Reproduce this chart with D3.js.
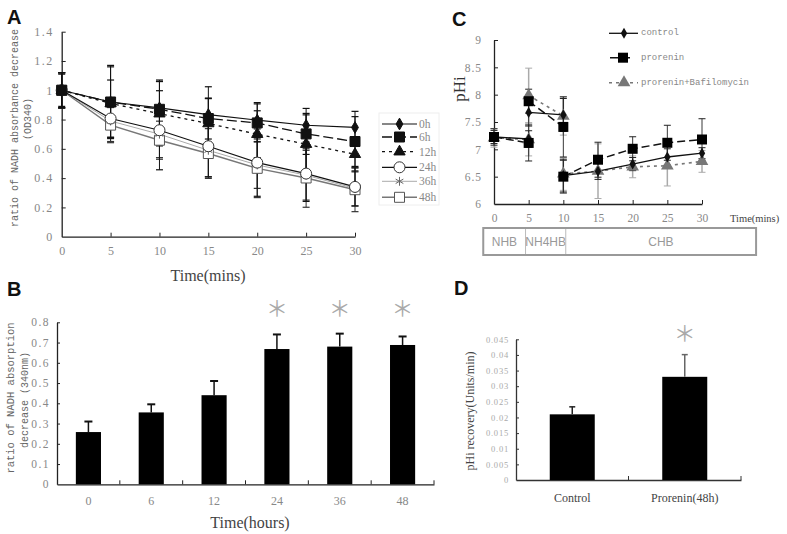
<!DOCTYPE html>
<html><head><meta charset="utf-8">
<script src="https://cdn.jsdelivr.net/npm/d3@7"></script>
<style>body{margin:0;background:#fff}svg{display:block}</style></head>
<body>
<script>
// ---------- Panel A data ----------
const timesA = [0, 5, 10, 15, 20, 25, 30];
const seriesA = ["0h", "6h", "12h", "24h", "36h", "48h"];
const valA0h  = [1, 0.92, 0.88, 0.834, 0.796, 0.761, 0.746];
const valA6h  = [1, 0.92, 0.87, 0.807, 0.777, 0.702, 0.65];
const valA12h = [1, 0.91, 0.84, 0.773, 0.70, 0.632, 0.563];
const valA24h = [1, 0.807, 0.727, 0.618, 0.506, 0.431, 0.34];
const valA36h = [1, 0.79, 0.70, 0.59, 0.49, 0.42, 0.33];
const valA48h = [1, 0.762, 0.659, 0.568, 0.467, 0.401, 0.321];
const errA0h  = [0.12, 0.25, 0.19, 0.19, 0.12, 0.115, 0.11];
const errA6h  = [0.11, 0.24, 0.19, 0.14, 0.13, 0.14, 0.17];
const errA12h = [0.12, 0.16, 0.22, 0.17, 0.16, 0.20, 0.12];
const errA24h = [0.12, 0.13, 0.27, 0.21, 0.23, 0.19, 0.13];
const errA36h = [0.12, 0.14, 0.16, 0.18, 0.16, 0.17, 0.12];
const errA48h = [0.12, 0.12, 0.13, 0.17, 0.20, 0.20, 0.15];
const ticksAy = [0, 0.2, 0.4, 0.6, 0.8, 1, 1.2, 1.4];

// ---------- Panel B data ----------
const hoursB = ["0", "6", "12", "24", "36", "48"];
const valB = [0.258, 0.355, 0.44, 0.668, 0.68, 0.688];
const errB = [0.052, 0.04, 0.07, 0.072, 0.064, 0.042];
const starB = [false, false, false, true, true, true];
const ticksBy = [0, 0.1, 0.2, 0.3, 0.4, 0.5, 0.6, 0.7, 0.8];

// ---------- Panel C data ----------
const seriesC = ["control", "prorenin", "prorenin+Bafilomycin"];
const segTimesC = [[0, 5], [5, 10], [10, 15, 20, 25, 30]];
const valCcontrol  = [[7.226, 7.19], [7.676, 7.63], [6.52, 6.60, 6.73, 6.86, 6.93]];
const valCprorenin = [[7.226, 7.117], [7.88, 7.41], [6.50, 6.81, 7.01, 7.12, 7.18]];
const valCbaf      = [[7.21, 7.18], [7.985, 7.61], [6.55, 6.60, 6.68, 6.70, 6.78]];
const errCcontrol  = [[0.15, 0.15], [0.25, 0.3], [0.3, 0.15, 0.12, 0.15, 0.1]];
const errCprorenin = [[0.12, 0.33], [0.22, 0.55], [0.3, 0.32, 0.22, 0.32, 0.38]];
const errCbaf      = [[0.17, 0.3], [0.5, 0.35], [0.3, 0.5, 0.2, 0.37, 0.2]];
const ticksCx = [0, 5, 10, 15, 20, 25, 30];
const ticksCy = [6, 6.5, 7, 7.5, 8, 8.5, 9];
const phaseLabels = ["NHB", "NH4HB", "CHB"];
const phaseBounds = [-1.55, 4.55, 10.35, 37.8];

// ---------- Panel D data ----------
const groupsD = ["Control", "Prorenin(48h)"];
const valD = [0.021, 0.033];
const errD = [0.0024, 0.0071];
const starD = [false, true];
const ticksDy = [0, 0.005, 0.01, 0.015, 0.02, 0.025, 0.03, 0.035, 0.04, 0.045];

const W = 787, H = 534;
const svg = d3.select("body").append("svg").attr("width", W).attr("height", H);
const fmt = d3.format("~g");
const SERIF = "'Liberation Serif', 'DejaVu Serif', serif";
const MONO = "'Liberation Mono', 'DejaVu Sans Mono', monospace";
const SANS = "'Liberation Sans', Arial, sans-serif";

function styleAxis(g, color, fontSize, family, textColor) {
  g.select(".domain").attr("stroke", color).attr("stroke-width", 1.3);
  g.selectAll(".tick line").attr("stroke", color).attr("stroke-width", 1);
  g.selectAll(".tick text").attr("fill", textColor).style("font-size", fontSize + "px").style("font-family", family);
}
function letter(txt, x, y) {
  svg.append("text").attr("x", x).attr("y", y).text(txt)
    .style("font-family", SANS).style("font-weight", "bold").style("font-size", "20px").attr("fill", "#111");
}
function star(x, y, size) {
  svg.append("text").attr("x", x).attr("y", y).text("＊")
    .attr("text-anchor", "middle").attr("dominant-baseline", "central")
    .style("font-family", "'Noto Sans CJK SC', sans-serif").style("font-size", size + "px").attr("fill", "#aaa");
}

// =============== PANEL A ===============
letter("A", 7, 24);
const xA = d3.scaleLinear().domain([0, 30]).range([61.7, 355]);
const yA = d3.scaleLinear().domain([0, 1.4]).range([236.7, 31.7]);
const gAx = svg.append("g").attr("transform", `translate(0,${yA(0)})`)
  .call(d3.axisBottom(xA).tickValues(timesA).tickSizeInner(-4).tickSizeOuter(0).tickPadding(10).tickFormat(fmt));
gAx.selectAll(".tick").filter(d => d === 0).select("line").remove();
styleAxis(gAx, "#222", 12, SERIF, "#888");
const gAy = svg.append("g").attr("transform", `translate(${xA(0)},0)`)
  .call(d3.axisLeft(yA).tickValues(ticksAy).tickSizeInner(-4).tickSizeOuter(0).tickPadding(8).tickFormat(fmt));
gAy.selectAll(".tick").filter(d => d === 0).select("line").remove();
styleAxis(gAy, "#222", 12, SERIF, "#888");
gAy.selectAll(".tick text").style("letter-spacing", "1.5px");

svg.append("text").attr("x", 208).attr("y", 281).attr("text-anchor", "middle").text("Time(mins)")
  .style("font-family", SERIF).style("font-size", "16px").attr("fill", "#444");
svg.append("text").attr("transform", "translate(18,128) rotate(-90)").attr("text-anchor", "middle")
  .text("ratio of NADH absorbance decrease").style("font-family", MONO).style("font-size", "10px").attr("fill", "#666");
svg.append("text").attr("transform", "translate(31,119) rotate(-90)").attr("text-anchor", "middle")
  .text("(OD340)").style("font-family", MONO).style("font-size", "10px").attr("fill", "#666");

const defsA = [
  {name: "0h",  v: valA0h,  e: errA0h,  stroke: "#111", dash: null,   sw: 1.2, sym: d3.symbolDiamond, size: 40, fill: "#111", mstroke: "#111", ecol: "#111"},
  {name: "6h",  v: valA6h,  e: errA6h,  stroke: "#111", dash: "10,4", sw: 1.3, sym: d3.symbolSquare,  size: 100, fill: "#111", mstroke: "#111", ecol: "#111"},
  {name: "12h", v: valA12h, e: errA12h, stroke: "#111", dash: "3,4",  sw: 1.3, sym: d3.symbolTriangle, size: 55, fill: "#111", mstroke: "#111", ecol: "#111"},
  {name: "24h", v: valA24h, e: errA24h, stroke: "#111", dash: null,   sw: 1.2, sym: d3.symbolCircle,  size: 95, fill: "#fff", mstroke: "#333", ecol: "#111"},
  {name: "36h", v: valA36h, e: errA36h, stroke: "#aaa", dash: null,   sw: 1.0, sym: d3.symbolAsterisk, size: 55, fill: "none", mstroke: "#666", ecol: "#333"},
  {name: "48h", v: valA48h, e: errA48h, stroke: "#777", dash: null,   sw: 1.4, sym: d3.symbolSquare,  size: 100, fill: "#fff", mstroke: "#555", ecol: "#333"}
];
const lineA = d3.line().x((d, i) => xA(timesA[i])).y(d => yA(d));
// error bars first
defsA.slice().reverse().forEach(s => {
  const g = svg.append("g");
  timesA.forEach((t, i) => {
    const x = xA(t), y1 = yA(s.v[i] + s.e[i]), y2 = yA(s.v[i] - s.e[i]);
    g.append("line").attr("x1", x).attr("x2", x).attr("y1", y1).attr("y2", y2).attr("stroke", s.ecol).attr("stroke-width", 1);
    [y1, y2].forEach(yy => g.append("line").attr("x1", x - 3.5).attr("x2", x + 3.5).attr("y1", yy).attr("y2", yy).attr("stroke", s.ecol).attr("stroke-width", 1.2));
  });
});
defsA.slice().reverse().forEach(s => {
  svg.append("path").attr("d", lineA(s.v)).attr("fill", "none").attr("stroke", s.stroke)
    .attr("stroke-width", s.sw).attr("stroke-dasharray", s.dash);
});
defsA.slice().reverse().forEach(s => {
  svg.append("g").selectAll("path").data(s.v).join("path")
    .attr("transform", (d, i) => `translate(${xA(timesA[i])},${yA(d)})`)
    .attr("d", d3.symbol(s.sym, s.size)).attr("fill", s.fill).attr("stroke", s.mstroke).attr("stroke-width", 1);
});
// legend A
const legAy = [124, 137, 151.7, 167.3, 181.3, 197.3];
svg.append("rect").attr("x", 379).attr("y", 113).attr("width", 60).attr("height", 92)
  .attr("fill", "none").attr("stroke", "#eee").attr("stroke-width", 1);
defsA.forEach((s, i) => {
  const y = legAy[i];
  svg.append("line").attr("x1", 382).attr("x2", 417).attr("y1", y).attr("y2", y)
    .attr("stroke", s.stroke).attr("stroke-width", s.sw).attr("stroke-dasharray", s.dash);
  svg.append("path").attr("transform", `translate(399.5,${y})`).attr("d", d3.symbol(s.sym, s.size))
    .attr("fill", s.fill).attr("stroke", s.mstroke).attr("stroke-width", 1);
  svg.append("text").attr("x", 419).attr("y", y).attr("dominant-baseline", "central").text(s.name)
    .style("font-family", SERIF).style("font-size", "11.5px").attr("fill", "#888");
});

// =============== PANEL B ===============
letter("B", 7, 296);
const xB = d3.scaleBand().domain(hoursB).range([57, 434]).paddingInner(0.6).paddingOuter(0.3);
const yB = d3.scaleLinear().domain([0, 0.8]).range([484.3, 322.3]);
const stepB = xB.step();
const gBy = svg.append("g").attr("transform", `translate(57,0)`)
  .call(d3.axisLeft(yB).tickValues(ticksBy).tickSizeInner(-3).tickSizeOuter(0).tickPadding(7).tickFormat(fmt));
gBy.selectAll(".tick").filter(d => d === 0).select("line").remove();
styleAxis(gBy, "#222", 11.5, SERIF, "#888");
gBy.selectAll(".tick text").style("letter-spacing", "1.5px");
const gBx = svg.append("g").attr("transform", `translate(0,${yB(0)})`)
  .call(d3.axisBottom(xB).tickSize(0).tickPadding(12));
styleAxis(gBx, "#222", 12, SERIF, "#888");
// boundary ticks
hoursB.slice(1).concat(["end"]).forEach((h, i) => {
  const x = h === "end" ? 434 : xB(h) - xB.bandwidth() * 0.75;
  svg.append("line").attr("x1", x).attr("x2", x).attr("y1", yB(0)).attr("y2", yB(0) - 4).attr("stroke", "#222");
});
svg.append("g").selectAll("rect").data(valB).join("rect")
  .attr("x", (d, i) => xB(hoursB[i])).attr("width", xB.bandwidth())
  .attr("y", d => yB(d)).attr("height", d => yB(0) - yB(d)).attr("fill", "#000");
valB.forEach((v, i) => {
  const cx = xB(hoursB[i]) + xB.bandwidth() / 2;
  svg.append("line").attr("x1", cx).attr("x2", cx).attr("y1", yB(v)).attr("y2", yB(v + errB[i])).attr("stroke", "#111").attr("stroke-width", 1.5);
  svg.append("line").attr("x1", cx - 4).attr("x2", cx + 4).attr("y1", yB(v + errB[i])).attr("y2", yB(v + errB[i])).attr("stroke", "#111").attr("stroke-width", 2);
  if (starB[i]) star(cx, 306, 22);
});
svg.append("text").attr("x", 250).attr("y", 528).attr("text-anchor", "middle").text("Time(hours)")
  .style("font-family", SERIF).style("font-size", "16px").attr("fill", "#444");
svg.append("text").attr("transform", "translate(14,398) rotate(-90)").attr("text-anchor", "middle")
  .text("ratio of NADH absorption").style("font-family", MONO).style("font-size", "10.5px").attr("fill", "#666");
svg.append("text").attr("transform", "translate(28,400) rotate(-90)").attr("text-anchor", "middle")
  .text("decrease (340nm)").style("font-family", MONO).style("font-size", "10px").attr("fill", "#666");

// =============== PANEL C ===============
letter("C", 452, 26);
const xC = d3.scaleLinear().domain([0, 30]).range([494, 702]);
const yC = d3.scaleLinear().domain([6, 9]).range([204, 40]);
const gCx = svg.append("g").attr("transform", `translate(0,${yC(6)})`)
  .call(d3.axisBottom(xC).tickValues(ticksCx).tickSizeInner(-4).tickSizeOuter(0).tickPadding(10).tickFormat(fmt));
gCx.selectAll(".tick").filter(d => d === 0).select("line").remove();
styleAxis(gCx, "#222", 11.5, SERIF, "#888");
const gCy = svg.append("g").attr("transform", `translate(${xC(0)},0)`)
  .call(d3.axisLeft(yC).tickValues(ticksCy).tickSizeInner(-4).tickSizeOuter(0).tickPadding(12).tickFormat(fmt));
gCy.selectAll(".tick").filter(d => d === 6).select("line").remove();
styleAxis(gCy, "#222", 11.5, SERIF, "#888");
gCy.selectAll(".tick text").style("letter-spacing", "1px");
svg.append("text").attr("transform", "translate(465,89) rotate(-90)").attr("text-anchor", "middle")
  .text("pHi").style("font-family", SERIF).style("font-size", "17px").attr("fill", "#333");
svg.append("text").attr("x", 730).attr("y", 222).text("Time(mins)")
  .style("font-family", SERIF).style("font-size", "10.5px").attr("fill", "#444");

const defsC = [
  {name: seriesC[2], v: valCbaf, e: errCbaf, stroke: "#777", dash: "3,4", sw: 1.6, sym: d3.symbolTriangle, size: 70, fill: "#777", ecol: "#aaa", ew: 1.5},
  {name: seriesC[0], v: valCcontrol, e: errCcontrol, stroke: "#111", dash: null, sw: 1.3, sym: d3.symbolDiamond, size: 35, fill: "#111", ecol: "#222", ew: 0.9},
  {name: seriesC[1], v: valCprorenin, e: errCprorenin, stroke: "#111", dash: "8,4", sw: 1.5, sym: d3.symbolSquare, size: 100, fill: "#000", ecol: "#222", ew: 0.9}
];
defsC.forEach(s => {
  segTimesC.forEach((ts, k) => {
    ts.forEach((t, i) => {
      const x = xC(t), v = s.v[k][i], e = s.e[k][i];
      svg.append("line").attr("x1", x).attr("x2", x).attr("y1", yC(v + e)).attr("y2", yC(v - e)).attr("stroke", s.ecol).attr("stroke-width", s.ew);
      [v + e, v - e].forEach(vv => svg.append("line").attr("x1", x - 3.5).attr("x2", x + 3.5).attr("y1", yC(vv)).attr("y2", yC(vv)).attr("stroke", s.ecol).attr("stroke-width", 1));
    });
  });
});
defsC.forEach(s => {
  segTimesC.forEach((ts, k) => {
    const line = d3.line().x((d, i) => xC(ts[i])).y(d => yC(d));
    svg.append("path").attr("d", line(s.v[k])).attr("fill", "none").attr("stroke", s.stroke)
      .attr("stroke-width", s.sw).attr("stroke-dasharray", s.dash);
  });
});
defsC.forEach(s => {
  segTimesC.forEach((ts, k) => {
    svg.append("g").selectAll("path").data(s.v[k]).join("path")
      .attr("transform", (d, i) => `translate(${xC(ts[i])},${yC(d)})`)
      .attr("d", d3.symbol(s.sym, s.size)).attr("fill", s.fill);
  });
});
// legend C
const legC = [
  {s: defsC[1], y: 33.3, x1: 609, x2: 638, mx: 624},
  {s: defsC[2], y: 57.7, x1: 610, x2: 634, mx: 623},
  {s: defsC[0], y: 82.7, x1: 609, x2: 638, mx: 624}
];
legC.forEach(L => {
  svg.append("line").attr("x1", L.x1).attr("x2", L.x2).attr("y1", L.y).attr("y2", L.y)
    .attr("stroke", L.s.stroke).attr("stroke-width", L.s.sw).attr("stroke-dasharray", L.s.dash);
  svg.append("path").attr("transform", `translate(${L.mx},${L.y})`).attr("d", d3.symbol(L.s.sym, L.s.size)).attr("fill", L.s.fill);
  svg.append("text").attr("x", 641).attr("y", L.y).attr("dominant-baseline", "central").text(L.s.name)
    .style("font-family", MONO).style("font-size", "9px").attr("fill", "#888");
});
// phase box
svg.append("rect").attr("x", xC(phaseBounds[0])).attr("y", 228).attr("width", xC(phaseBounds[3]) - xC(phaseBounds[0])).attr("height", 27)
  .attr("fill", "none").attr("stroke", "#999").attr("stroke-width", 2);
phaseLabels.forEach((lab, i) => {
  if (i > 0) svg.append("line").attr("x1", xC(phaseBounds[i])).attr("x2", xC(phaseBounds[i])).attr("y1", 229).attr("y2", 254).attr("stroke", "#bbb");
  svg.append("text").attr("x", (xC(phaseBounds[i]) + xC(phaseBounds[i + 1])) / 2).attr("y", 242).attr("text-anchor", "middle")
    .attr("dominant-baseline", "central").text(lab).style("font-family", SANS).style("font-size", "12px").attr("fill", "#999");
});

// =============== PANEL D ===============
letter("D", 454, 295);
const xD = d3.scaleBand().domain(groupsD).range([516, 741]).paddingInner(0.6).paddingOuter(0.3);
const yD = d3.scaleLinear().domain([0, 0.045]).range([480, 339.3]);
const gDy = svg.append("g").attr("transform", `translate(516,0)`)
  .call(d3.axisLeft(yD).tickValues(ticksDy).tickSizeInner(-3).tickSizeOuter(0).tickPadding(7).tickFormat(fmt));
gDy.selectAll(".tick").filter(d => d === 0).select("line").remove();
styleAxis(gDy, "#333", 8.5, SERIF, "#aaa");
gDy.selectAll(".tick text").style("letter-spacing", "0.8px");
const gDx = svg.append("g").attr("transform", `translate(0,${yD(0)})`)
  .call(d3.axisBottom(xD).tickSize(0).tickPadding(13));
styleAxis(gDx, "#333", 12, SERIF, "#444");
[628.5, 741].forEach(x => svg.append("line").attr("x1", x).attr("x2", x).attr("y1", yD(0)).attr("y2", yD(0) - 4).attr("stroke", "#333"));
svg.append("g").selectAll("rect").data(valD).join("rect")
  .attr("x", (d, i) => xD(groupsD[i])).attr("width", xD.bandwidth())
  .attr("y", d => yD(d)).attr("height", d => yD(0) - yD(d)).attr("fill", "#000");
valD.forEach((v, i) => {
  const cx = xD(groupsD[i]) + xD.bandwidth() / 2;
  const col = i === 0 ? "#222" : "#666";
  svg.append("line").attr("x1", cx).attr("x2", cx).attr("y1", yD(v)).attr("y2", yD(v + errD[i])).attr("stroke", col).attr("stroke-width", 1.5);
  svg.append("line").attr("x1", cx - 3).attr("x2", cx + 3).attr("y1", yD(v + errD[i])).attr("y2", yD(v + errD[i])).attr("stroke", col).attr("stroke-width", 1.5);
  if (starD[i]) star(cx, 331, 22);
});
svg.append("text").attr("transform", "translate(474,411) rotate(-90)").attr("text-anchor", "middle")
  .text("pHi recovery(Units/min)").style("font-family", SERIF).style("font-size", "12px").attr("fill", "#444");
</script>
</body></html>
